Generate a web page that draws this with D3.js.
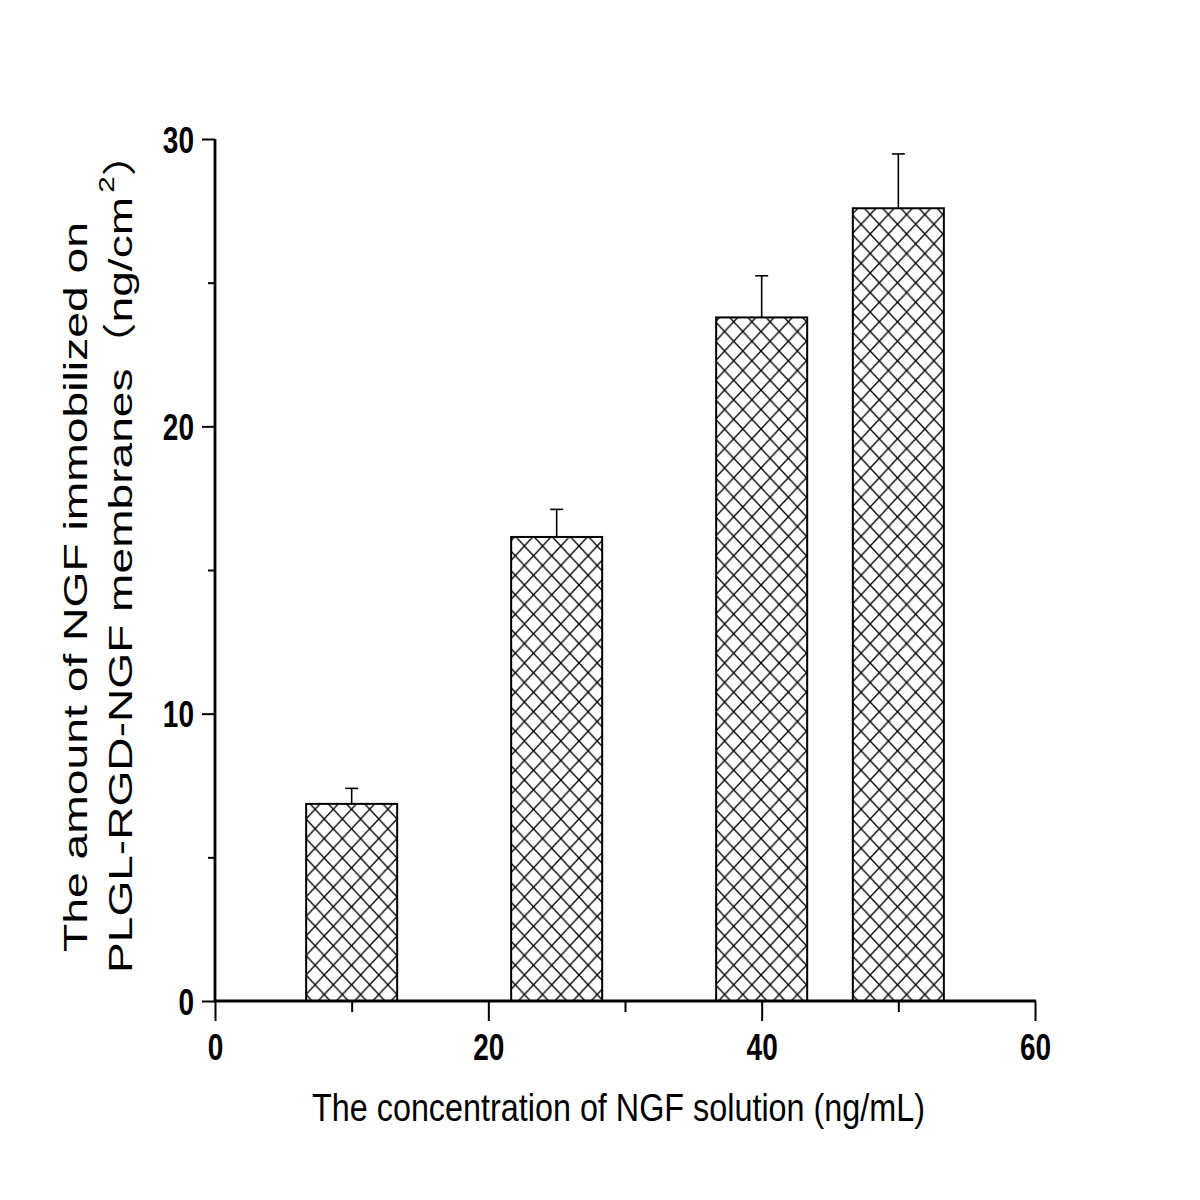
<!DOCTYPE html>
<html>
<head>
<meta charset="utf-8">
<script src="https://cdn.jsdelivr.net/npm/d3@7"></script>
<style>
  html, body { margin: 0; padding: 0; background: #fff; }
  svg { display: block; }
</style>
</head>
<body>
<svg id="chart" width="1200" height="1200"></svg>
<script>
// ---- data ----
const concentrations = [10, 25, 40, 50];          // ng/mL
const amounts = [6.86, 16.15, 23.79, 27.59];      // ng/cm2
const errors = [0.54, 0.96, 1.45, 1.89];
const xMajorTicks = [0, 20, 40, 60];
const xMinorTicks = [10, 30, 50];
const yMajorTicks = [0, 10, 20, 30];
const yMinorTicks = [5, 15, 25];
const xTitle = "The concentration of NGF solution (ng/mL)";
const yTitleLine1 = "The amount of NGF immobilized on";
const yTitleLine2a = "PLGL-RGD-NGF membranes";
const yTitleLine2open = "\uFF08";
const yTitleLine2b = "ng/cm";
const yTitleSup = "2";
const yTitleLine2close = "\uFF09";

// ---- layout ----
const svg = d3.select("#chart");
const x = d3.scaleLinear().domain([0, 60]).range([215, 1035]);
const y = d3.scaleLinear().domain([0, 30]).range([1001, 139]);
const barHalf = 3.33;
const font = "'Liberation Sans', Arial, sans-serif";
const cjk = "'Noto Sans CJK SC', 'Noto Sans CJK JP', sans-serif";

svg.append("rect").attr("width", 1200).attr("height", 1200).attr("fill", "#fff");

// hatch pattern
const defs = svg.append("defs");
const pat = defs.append("pattern")
  .attr("id", "hatch").attr("patternUnits", "userSpaceOnUse")
  .attr("x", 306).attr("y", 0)
  .attr("width", 18.2).attr("height", 19.5);
pat.append("rect").attr("width", 18.2).attr("height", 19.5).attr("fill", "#fff");
pat.append("path").attr("d", "M0,0 L18.2,19.5 M18.2,0 L0,19.5")
  .attr("stroke", "#000").attr("stroke-width", 1.4).attr("fill", "none");

const data = concentrations.map((c, i) => ({c, v: amounts[i], e: errors[i]}));

// error bars
const eb = svg.append("g").attr("stroke", "#000").attr("stroke-width", 1.6);
eb.selectAll("line.v").data(data).join("line").attr("class", "v")
  .attr("x1", d => x(d.c)).attr("x2", d => x(d.c))
  .attr("y1", d => y(d.v)).attr("y2", d => y(d.v + d.e));
eb.selectAll("line.cap").data(data).join("line").attr("class", "cap")
  .attr("x1", d => x(d.c) - 6.5).attr("x2", d => x(d.c) + 6.5)
  .attr("y1", d => y(d.v + d.e)).attr("y2", d => y(d.v + d.e));

// bars
svg.append("g").selectAll("rect").data(data).join("rect")
  .attr("x", d => x(d.c - barHalf))
  .attr("width", d => x(d.c + barHalf) - x(d.c - barHalf))
  .attr("y", d => y(d.v))
  .attr("height", d => y(0) - y(d.v))
  .attr("fill", "url(#hatch)")
  .attr("stroke", "#000").attr("stroke-width", 2);

// x axis
const gx = svg.append("g").attr("transform", `translate(0,${y(0)})`);
gx.call(d3.axisBottom(x).tickValues(xMajorTicks).tickSize(20).tickSizeOuter(0).tickFormat(d3.format("d")));
const gxm = svg.append("g").attr("transform", `translate(0,${y(0)})`);
gxm.call(d3.axisBottom(x).tickValues(xMinorTicks).tickSize(11).tickSizeOuter(0).tickFormat(""));
gxm.select(".domain").remove();
gx.select(".domain").attr("stroke-width", 3.2).attr("d", `M${x(0) - 1},0H${x(60) + 1}`);
[gx, gxm].forEach(g => g.selectAll(".tick line").attr("stroke-width", 2));
gx.selectAll(".tick text")
  .attr("y", null).attr("dy", null)
  .attr("transform", "translate(0,59) scale(1,1.3)")
  .attr("font-family", font).attr("font-weight", "bold").attr("font-size", 28)
  .attr("fill", "#000").attr("text-anchor", "middle");

// y axis
const gy = svg.append("g").attr("transform", `translate(${x(0)},0)`);
gy.call(d3.axisLeft(y).tickValues(yMajorTicks).tickSize(13).tickSizeOuter(0).tickFormat(d3.format("d")));
const gym = svg.append("g").attr("transform", `translate(${x(0)},0)`);
gym.call(d3.axisLeft(y).tickValues(yMinorTicks).tickSize(7).tickSizeOuter(0).tickFormat(""));
gym.select(".domain").remove();
gy.select(".domain").attr("stroke-width", 2.8).attr("d", `M0,${y(30)}V${y(0)}`);
[gy, gym].forEach(g => g.selectAll(".tick line").attr("stroke-width", 2));
gy.selectAll(".tick text")
  .attr("x", null).attr("dy", null)
  .attr("transform", "translate(-21,13) scale(1,1.3)")
  .attr("font-family", font).attr("font-weight", "bold").attr("font-size", 28)
  .attr("fill", "#000").attr("text-anchor", "end");

// x title
svg.append("text")
  .attr("transform", "translate(312,1121) scale(1,1.3)")
  .attr("font-family", font).attr("font-size", 30).attr("fill", "#000")
  .attr("textLength", 613).attr("lengthAdjust", "spacingAndGlyphs")
  .text(xTitle);

// y title
svg.append("text")
  .attr("transform", "translate(87,952) rotate(-90)")
  .attr("font-family", font).attr("font-size", 34).attr("fill", "#000")
  .attr("textLength", 730).attr("lengthAdjust", "spacingAndGlyphs")
  .text(yTitleLine1);

const t2 = svg.append("text")
  .attr("transform", "translate(132,973) rotate(-90) scale(1.356,1)")
  .attr("font-family", font).attr("font-size", 34).attr("fill", "#000");
t2.append("tspan").text(yTitleLine2a);
t2.append("tspan").attr("font-family", cjk).text(yTitleLine2open);
t2.append("tspan").text(yTitleLine2b);
t2.append("tspan").attr("dy", -18).attr("font-size", 22).attr("dx", 3).text(yTitleSup);
t2.append("tspan").attr("dy", 18).attr("font-family", cjk).text(yTitleLine2close);
</script>
</body>
</html>
